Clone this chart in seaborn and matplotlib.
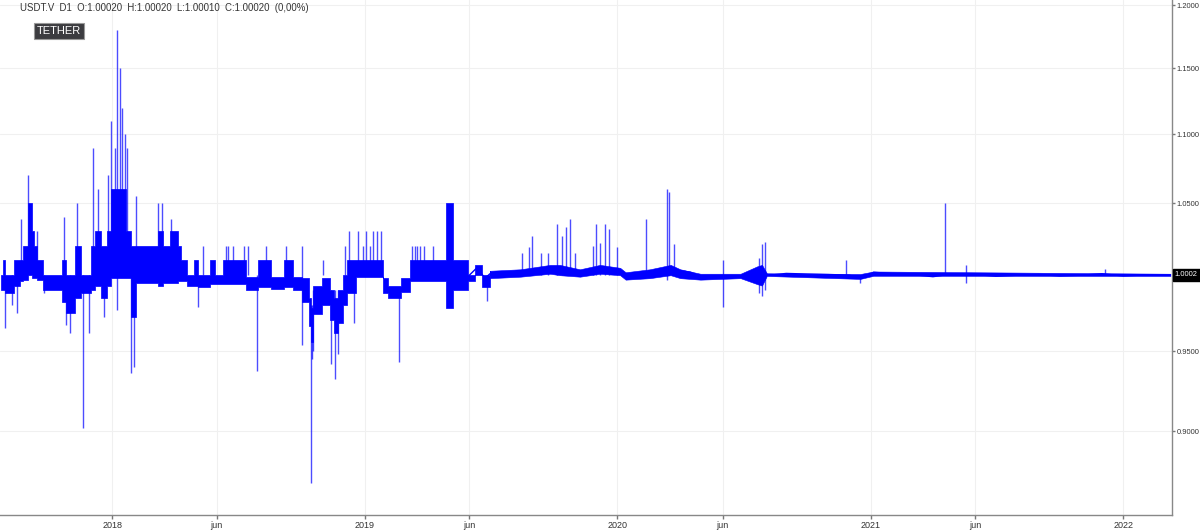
import pandas as pd
import matplotlib
matplotlib.use('Agg')
import matplotlib.pyplot as plt
import matplotlib.ticker as mticker
import seaborn as sns

sns.set_theme(style='white')
plt.rcParams['font.family'] = ['Liberation Sans', 'DejaVu Sans']

BLUE = '#0000ff'

# Blocky daily range up to mid 2019 (step band): start date, low, high
env_dates = ['2017-07-24', '2017-07-28', '2017-07-31', '2017-08-12', '2017-08-21', '2017-08-26',
             '2017-09-01', '2017-09-07', '2017-09-10', '2017-09-14', '2017-09-23', '2017-10-20',
             '2017-10-27', '2017-11-09', '2017-11-17', '2017-12-01', '2017-12-08', '2017-12-16',
             '2017-12-24', '2017-12-30', '2018-01-21', '2018-01-28', '2018-02-04', '2018-03-08',
             '2018-03-16', '2018-03-25', '2018-04-06', '2018-04-10', '2018-04-19', '2018-04-29',
             '2018-05-05', '2018-05-22', '2018-05-29', '2018-06-10', '2018-07-14', '2018-07-31',
             '2018-08-18', '2018-09-06', '2018-09-19', '2018-10-03', '2018-10-12', '2018-10-15',
             '2018-10-19', '2018-11-01', '2018-11-12', '2018-11-17', '2018-11-24', '2018-11-30',
             '2018-12-07', '2018-12-19', '2019-01-28', '2019-02-03', '2019-02-22', '2019-03-08',
             '2019-04-28', '2019-05-09', '2019-05-30', '2019-06-09', '2019-06-20', '2019-07-01']
env_low = [0.990, 0.990, 0.988, 0.993, 0.996, 0.997,
           1.000, 0.998, 0.998, 0.997, 0.990, 0.982,
           0.975, 0.985, 0.988, 0.990, 0.993, 0.985,
           0.993, 0.998, 0.998, 0.972, 0.995, 0.993,
           0.995, 0.995, 0.996, 0.996, 0.993, 0.993,
           0.992, 0.994, 0.994, 0.994, 0.990, 0.992,
           0.991, 0.992, 0.990, 0.982, 0.966, 0.956,
           0.974, 0.980, 0.970, 0.962, 0.968, 0.980,
           0.988, 0.999, 0.988, 0.985, 0.989, 0.996,
           0.978, 0.990, 0.996, 1.000, 0.992, 0.998]
env_high = [1.000, 1.010, 1.000, 1.010, 1.010, 1.020,
            1.050, 1.030, 1.020, 1.010, 1.000, 1.010,
            1.000, 1.020, 1.000, 1.020, 1.030, 1.020,
            1.030, 1.060, 1.030, 1.020, 1.020, 1.030,
            1.020, 1.030, 1.020, 1.010, 1.000, 1.010,
            1.000, 1.010, 1.000, 1.010, 0.999, 1.010,
            0.999, 1.010, 0.999, 0.998, 0.985, 0.978,
            0.993, 0.998, 0.990, 0.985, 0.990, 1.000,
            1.010, 1.010, 0.998, 0.993, 0.998, 1.010,
            1.050, 1.010, 1.000, 1.007, 1.000, 1.003]

# Calmer daily range from mid 2019: date, low, high
band_dates = ['2019-07-01', '2019-08-14', '2019-09-26', '2019-10-10', '2019-11-08', '2019-12-07',
              '2020-01-05', '2020-01-13', '2020-02-17', '2020-03-18', '2020-04-01', '2020-04-30',
              '2020-06-27', '2020-07-21', '2020-07-28', '2020-08-04', '2020-12-17', '2021-01-05',
              '2022-03-10']
band_low = [0.998, 0.999, 1.001, 1.000, 0.999, 1.001,
            1.000, 0.997, 0.998, 1.000, 0.998, 0.997,
            0.998, 0.994, 0.993, 0.9995, 0.9975, 0.9996,
            0.9995]
band_high = [1.003, 1.004, 1.007, 1.007, 1.004, 1.007,
             1.005, 1.002, 1.004, 1.007, 1.004, 1.001,
             1.001, 1.006, 1.007, 1.0013, 1.0008, 1.0025,
             1.0010]

# Single-day wicks: date, low, high
spike_dates = ['2017-07-31', '2017-08-10', '2017-08-16', '2017-08-22', '2017-09-01', '2017-09-14',
               '2017-09-24', '2017-10-23', '2017-10-26', '2017-11-01', '2017-11-12', '2017-11-20',
               '2017-11-28', '2017-12-05', '2017-12-11', '2017-12-21', '2017-12-26', '2017-12-30',
               '2018-01-05', '2018-01-08', '2018-01-12', '2018-01-15', '2018-01-19', '2018-01-22',
               '2018-01-28', '2018-02-01', '2018-02-04', '2018-03-08', '2018-03-14', '2018-03-27',
               '2018-05-05', '2018-05-12', '2018-06-14', '2018-06-18', '2018-06-24', '2018-07-11',
               '2018-07-16', '2018-07-30', '2018-08-11', '2018-09-09', '2018-10-03', '2018-10-15',
               '2018-10-17', '2018-10-19', '2018-11-02', '2018-11-14', '2018-11-19', '2018-11-24',
               '2018-12-04', '2018-12-10', '2018-12-16', '2018-12-23', '2018-12-29', '2019-01-03',
               '2019-01-09', '2019-01-13', '2019-01-19', '2019-01-25', '2019-02-20', '2019-03-11',
               '2019-03-14', '2019-03-18', '2019-03-22', '2019-03-28', '2019-04-09', '2019-06-26',
               '2019-08-16', '2019-08-26', '2019-08-31', '2019-09-13', '2019-09-23', '2019-10-06',
               '2019-10-13', '2019-10-19', '2019-10-25', '2019-11-01', '2019-11-27', '2019-12-01',
               '2019-12-07', '2019-12-14', '2019-12-20', '2020-01-01', '2020-02-12', '2020-03-13',
               '2020-03-16', '2020-03-23', '2020-06-02', '2020-07-24', '2020-07-28', '2020-08-01',
               '2020-11-27', '2020-12-17', '2021-04-19', '2021-05-19', '2021-12-05']
spike_low = [0.965, 0.980, 0.975, 1.000, 1.000, 1.000,
             0.988, 1.000, 0.967, 0.962, 1.000, 0.902,
             0.962, 1.000, 1.000, 0.972, 1.000, 1.000,
             1.000, 0.977, 1.000, 1.000, 1.000, 1.000,
             0.936, 0.940, 1.000, 1.000, 1.000, 1.000,
             0.979, 1.000, 1.000, 1.000, 1.000, 1.000,
             1.000, 0.937, 1.000, 1.000, 0.954, 0.869,
             0.945, 0.950, 1.000, 0.942, 0.932, 0.948,
             1.000, 1.000, 0.968, 1.000, 1.000, 1.000,
             1.000, 1.000, 1.000, 1.000, 0.943, 1.000,
             1.000, 1.000, 1.000, 1.000, 1.000, 0.983,
             1.000, 1.000, 1.000, 1.000, 1.000, 1.000,
             1.000, 1.000, 1.000, 1.000, 1.000, 1.000,
             1.000, 1.000, 1.000, 1.000, 1.000, 0.997,
             1.000, 1.000, 0.979, 0.988, 0.986, 0.990,
             1.000, 0.995, 1.000, 0.995, 1.000]
spike_high = [1.000, 1.000, 1.000, 1.039, 1.070, 1.030,
              1.000, 1.040, 1.000, 1.000, 1.050, 1.000,
              1.000, 1.090, 1.060, 1.000, 1.070, 1.110,
              1.090, 1.180, 1.150, 1.120, 1.100, 1.090,
              1.000, 1.000, 1.055, 1.050, 1.050, 1.039,
              1.000, 1.020, 1.020, 1.020, 1.020, 1.020,
              1.020, 1.000, 1.020, 1.020, 1.020, 0.980,
              0.980, 0.990, 1.010, 0.990, 0.990, 0.990,
              1.020, 1.030, 1.000, 1.030, 1.020, 1.030,
              1.020, 1.030, 1.030, 1.030, 0.990, 1.020,
              1.020, 1.020, 1.020, 1.020, 1.020, 1.000,
              1.015, 1.019, 1.027, 1.015, 1.015, 1.035,
              1.027, 1.033, 1.039, 1.015, 1.020, 1.035,
              1.022, 1.035, 1.032, 1.019, 1.039, 1.060,
              1.058, 1.021, 1.010, 1.012, 1.021, 1.023,
              1.010, 1.000, 1.050, 1.007, 1.004]

# Closing level from mid 2019
close_dates = ['2019-05-30', '2019-06-12', '2019-06-24', '2019-07-01', '2019-08-14', '2019-08-28',
               '2019-09-26', '2019-10-10', '2019-11-01', '2019-11-08', '2019-11-22', '2019-12-07',
               '2019-12-29', '2020-01-13', '2020-02-04', '2020-03-03', '2020-03-18', '2020-04-16',
               '2020-04-30', '2020-06-27', '2020-07-11', '2020-08-08', '2020-09-01', '2020-10-01',
               '2020-11-01', '2020-12-01', '2020-12-20', '2021-01-05', '2021-02-01', '2021-03-01',
               '2021-04-01', '2021-05-01', '2021-06-01', '2021-07-01', '2021-08-01', '2021-09-01',
               '2021-10-01', '2021-11-01', '2021-12-01', '2022-01-01', '2022-02-01', '2022-03-10']
close_vals = [0.999, 1.005, 0.998, 1.001, 1.001, 1.003,
              1.005, 1.004, 1.002, 1.000, 1.004, 1.005,
              1.003, 0.999, 1.000, 1.003, 1.004, 1.002,
              0.999, 0.999, 1.000, 1.000, 1.0012, 1.0008,
              1.0005, 1.000, 0.998, 1.002, 1.001, 1.0005,
              0.999, 1.001, 1.0005, 0.9993, 1.000, 1.0005,
              0.9995, 1.000, 1.001, 0.9995, 1.0002, 1.0002]

tick_dates = ['2018-01-01', '2018-06-01', '2019-01-01', '2019-06-01', '2020-01-01',
              '2020-06-01', '2021-01-01', '2021-06-01', '2022-01-01']
tick_labels = ['2018', 'jun', '2019', 'jun', '2020', 'jun', '2021', 'jun', '2022']
price_ticks = [0.90, 0.95, 1.05, 1.10, 1.15, 1.20]

header = 'USDT.V  D1  O:1.00020  H:1.00020  L:1.00010  C:1.00020  (0,00%)'
last_price = 1.0002

fig = plt.figure(figsize=(12, 5.3), dpi=100)
ax = fig.add_axes([0, 0.0283, 0.9767, 0.9717])
ax.set_yscale('log')

ax.fill_between(pd.to_datetime(env_dates), env_low, env_high, step='post',
                color=BLUE, edgecolor=BLUE, lw=0.5, zorder=3)
ax.fill_between(pd.to_datetime(band_dates), band_low, band_high,
                color=BLUE, edgecolor=BLUE, lw=0.4, zorder=3)
ax.vlines(pd.to_datetime(spike_dates), spike_low, spike_high, color=BLUE, lw=1, alpha=0.7, zorder=3)
sns.lineplot(x=pd.to_datetime(close_dates), y=close_vals, ax=ax, color=BLUE, lw=1.0, zorder=4)

ax.set_xlim(pd.Timestamp('2017-07-23 02:00'), pd.Timestamp('2022-03-12 10:00'))
ax.set_ylim(0.8504, 1.2044)

ax.set_xticks(pd.to_datetime(tick_dates))
ax.set_xticklabels(tick_labels)
ax.yaxis.set_major_locator(mticker.FixedLocator(price_ticks))
ax.yaxis.set_minor_locator(mticker.NullLocator())
ax.yaxis.set_major_formatter(mticker.FuncFormatter(lambda v, p: f'{v:.4f}'))
ax.yaxis.set_minor_formatter(mticker.NullFormatter())
ax.yaxis.tick_right()

ax.tick_params(axis='x', bottom=True, length=3, width=1, color='#777', labelsize=6.5,
               labelcolor='#333', pad=1)
ax.tick_params(axis='y', right=True, left=False, length=2.5, width=1, color='#777', labelsize=5.4,
               labelcolor='#333', pad=1)

for side in ['left', 'top']:
    ax.spines[side].set_visible(False)
for side in ['bottom', 'right']:
    ax.spines[side].set_color('#888')
    ax.spines[side].set_linewidth(1)

ax.grid(True, color='#f0f0f0', lw=0.8)
ax.set_axisbelow(True)
ax.set_xlabel('')
ax.set_ylabel('')

ax.annotate(f'{last_price:.4f}', xy=(1, last_price), xycoords=('axes fraction', 'data'),
            xytext=(2.0, 0), textcoords='offset points', ha='left', va='center',
            fontsize=5.4, color='white',
            bbox=dict(boxstyle='square,pad=0.3', fc='black', ec='black'))

fig.text(20 / 1200, 1 - 8 / 530, header, fontsize=6.9, color='#333', va='center', ha='left')
fig.text(37 / 1200, 1 - 31 / 530, 'TETHER', fontsize=8, color='white', va='center', ha='left',
         bbox=dict(boxstyle='square,pad=0.25', fc='#3c3c40', ec='#999', lw=0.8))

fig.savefig('out.png', dpi=100)
